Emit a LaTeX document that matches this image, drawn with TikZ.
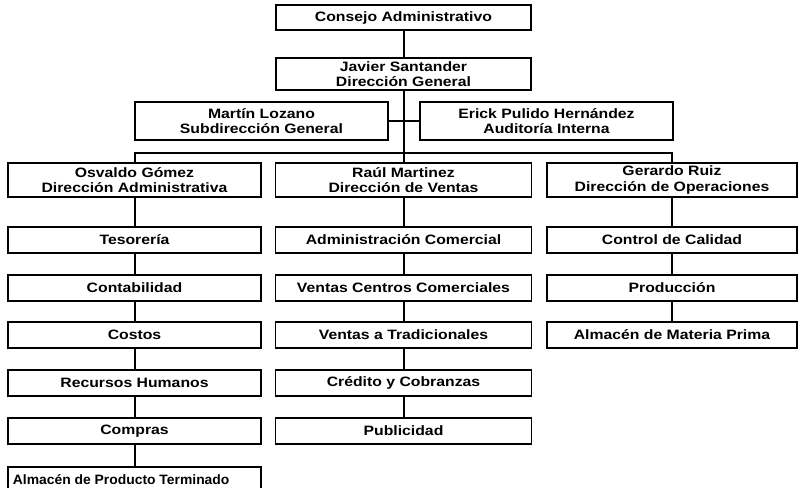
\documentclass[tikz,border=0pt]{standalone}
\usepackage{fontspec}
\setmainfont{Liberation Sans}[FakeStretch=1.16]
\begin{document}
\begin{tikzpicture}[x=0.75pt,y=-0.75pt,
  box/.style={draw=black, line width=0.9pt, inner sep=0pt, align=center,
    minimum height=19.5pt, font=\fontsize{10.2}{11.4}\selectfont\bfseries},
  wide/.style={box, minimum width=191.25pt},
  colL/.style={box, minimum width=189.75pt},
  colM/.style={box, minimum width=192pt},
  colR/.style={box, minimum width=187.5pt},
  head/.style={minimum height=25.5pt},
  link/.style={draw=black, line width=1.5pt},
  thin link/.style={draw=black, line width=1pt}]
\clip (0,0) rectangle (800,487);
\fill[white] (0,0) rectangle (800,487);

% top of the organisation
\node[wide, minimum height=18.75pt] (consejo) at (403.5,17.5) {Consejo Administrativo};
\node[wide, minimum height=24pt] (javier) at (403.5,74) {Javier Santander\\Dirección General};
\node[box, minimum width=189.75pt, minimum height=28.5pt] (martin) at (261.5,121) {Martín Lozano\\Subdirección General};
\node[box, minimum width=189.75pt, minimum height=28.5pt] (erick) at (546.5,121) {Erick Pulido Hernández\\Auditoría Interna};

% directors
\node[colL, head] (osvaldo) at (134.5,180) {Osvaldo Gómez\\Dirección Administrativa};
\node[colM, head] (raul) at (403.5,180) {Raúl Martinez\\Dirección de Ventas};
\node[colR, head] (gerardo) at (672,180) {Gerardo Ruiz\\Dirección de Operaciones};

% administrative branch
\node[colL] (tesoreria) at (134.5,240) {Tesorería};
\node[colL] (contab) at (134.5,288) {Contabilidad};
\node[colL] (costos) at (134.5,335) {Costos};
\node[colL] (rrhh) at (134.5,383) {Recursos Humanos};
\node[colL] (compras) at (134.5,431) {Compras};
\node[colL] (almpt) at (134.5,480) {\scalebox{0.88}[1]{Almacén de Producto Terminado}\kern20pt};

% sales branch
\node[colM] (admcom) at (403.5,240) {Administración Comercial};
\node[colM] (ventascc) at (403.5,288) {Ventas Centros Comerciales};
\node[colM] (ventastr) at (403.5,335) {Ventas a Tradicionales};
\node[colM] (credito) at (403.5,383) {Crédito y Cobranzas};
\node[colM] (publi) at (403.5,431) {Publicidad};

% operations branch
\node[colR] (calidad) at (672,240) {Control de Calidad};
\node[colR] (produccion) at (672,288) {Producción};
\node[colR] (almmp) at (672,335) {Almacén de Materia Prima};

% connectors
\coordinate (bus) at (403.5,153);
\draw[link] (consejo) -- (javier);
\draw[link] (javier.south) -- (javier.south |- bus);
\draw[thin link] (martin.east) -- (erick.west);
\draw[link] (osvaldo.north) -- (osvaldo.north |- bus) -- (gerardo.north |- bus) -- (gerardo.north);
\draw[link] (raul.north) -- (raul.north |- bus);

\draw[link] (osvaldo) -- (tesoreria);
\draw[link] (tesoreria) -- (contab);
\draw[link] (contab) -- (costos);
\draw[link] (costos) -- (rrhh);
\draw[link] (rrhh) -- (compras);
\draw[link] (compras) -- (almpt);

\draw[link] (raul) -- (admcom);
\draw[link] (admcom) -- (ventascc);
\draw[link] (ventascc) -- (ventastr);
\draw[link] (ventastr) -- (credito);
\draw[link] (credito) -- (publi);

\draw[link] (gerardo) -- (calidad);
\draw[link] (calidad) -- (produccion);
\draw[link] (produccion) -- (almmp);
\end{tikzpicture}
\end{document}
